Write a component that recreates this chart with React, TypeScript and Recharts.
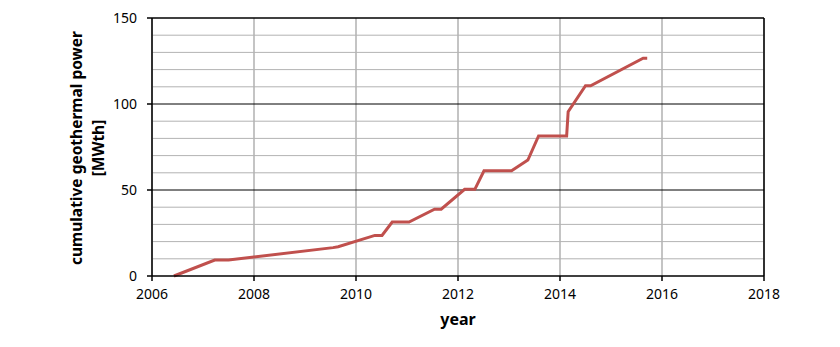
import React from 'react'
import {
  LineChart,
  Line,
  XAxis,
  YAxis,
  CartesianGrid,
  ReferenceLine,
  Label,
} from 'recharts'

const years = [
  2006.43, 2007.23, 2007.5, 2009.55, 2009.65, 2010.37, 2010.51, 2010.71, 2011.04,
  2011.54, 2011.67, 2012.13, 2012.33, 2012.51, 2013.05, 2013.37, 2013.58, 2014.13,
  2014.16, 2014.5, 2014.6, 2015.63, 2015.71,
]
const power = [
  0, 9.3, 9.3, 16.5, 17, 23.6, 23.6, 31.4, 31.4,
  38.8, 38.8, 50.4, 50.4, 61.2, 61.2, 67.4, 81.4, 81.4,
  95.5, 110.6, 110.6, 126.6, 126.6,
]

const xTicks = [2006, 2008, 2010, 2012, 2014, 2016, 2018]
const yTicks = [0, 50, 100, 150]
const minorY = [10, 20, 30, 40, 60, 70, 80, 90, 110, 120, 130, 140]

const data = years.map((year, i) => ({ year, power: power[i] }))

const FONT = '"Noto Sans", sans-serif'

function YTitle() {
  return (
    <g fontFamily={FONT} fontWeight="bold" fontSize={15.5} fill="#000">
      <text x={78} y={148} transform="rotate(-90 78 148)" textAnchor="middle" dominantBaseline="middle">
        cumulative geothermal power
      </text>
      <text x={100} y={148} transform="rotate(-90 100 148)" textAnchor="middle" dominantBaseline="middle">
        [MWth]
      </text>
    </g>
  )
}

export default function App() {
  return (
    <div style={{ width: 840, height: 347, background: '#fff' }}>
      <style>{'body{margin:0}'}</style>
      <LineChart
        width={840}
        height={347}
        data={data}
        margin={{ top: 18, right: 76, left: 0, bottom: 0 }}
      >
        <CartesianGrid
          horizontal={false}
          vertical
          stroke="#898989"
          strokeWidth={1}
        />
        {minorY.map((v) => (
          <ReferenceLine key={v} y={v} stroke="#B3B3B3" strokeWidth={1} />
        ))}
        <ReferenceLine y={50} stroke="#000" strokeWidth={1} />
        <ReferenceLine y={100} stroke="#000" strokeWidth={1} />
        <ReferenceLine y={150} stroke="#000" strokeWidth={1.5} />
        <ReferenceLine x={2018} stroke="#000" strokeWidth={1.5} />
        <XAxis
          dataKey="year"
          type="number"
          domain={[2006, 2018]}
          ticks={xTicks}
          height={71}
          tickSize={5}
          tickMargin={8}
          stroke="#000"
          strokeWidth={1.5}
          tick={{ fill: '#000', fontSize: 14, fontFamily: FONT }}
          interval={0}
        >
          <Label
            value="year"
            position="insideTop"
            offset={38}
            style={{ fontFamily: FONT, fontWeight: 'bold', fontSize: 16, fill: '#000' }}
          />
        </XAxis>
        <YAxis
          type="number"
          domain={[0, 150]}
          ticks={yTicks}
          width={152}
          tickSize={5}
          tickMargin={10}
          stroke="#000"
          strokeWidth={1.5}
          tick={{ fill: '#000', fontSize: 14, fontFamily: FONT }}
          interval={0}
        >
          <Label content={() => <YTitle />} />
        </YAxis>
        <Line
          type="linear"
          dataKey="power"
          stroke="#C0504D"
          strokeWidth={3}
          dot={false}
          isAnimationActive={false}
        />
      </LineChart>
    </div>
  )
}
